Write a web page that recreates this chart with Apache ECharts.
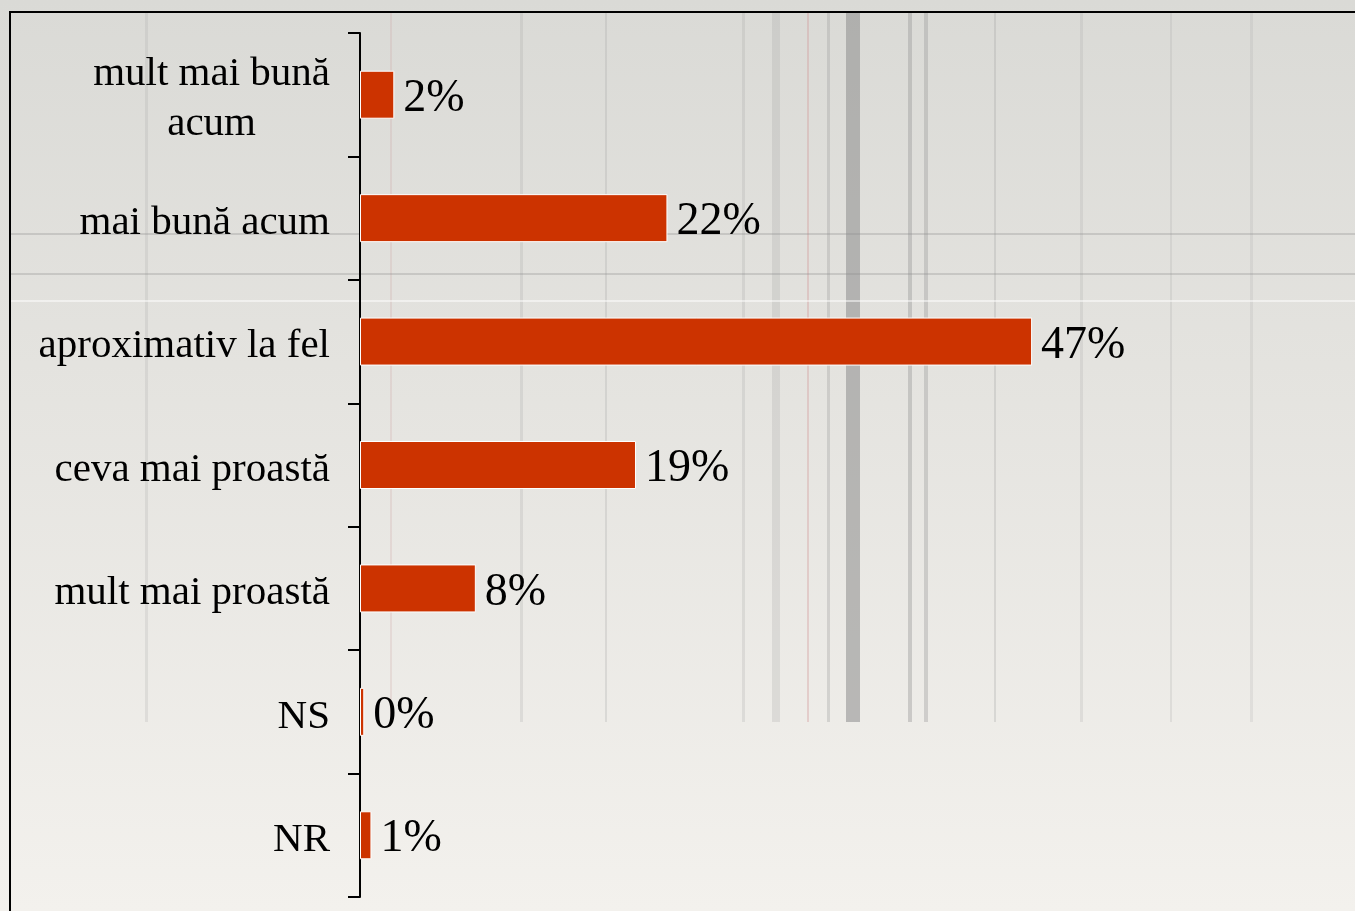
<!DOCTYPE html>
<html>
<head>
<meta charset="utf-8">
<script src="https://cdn.jsdelivr.net/npm/echarts@6/dist/echarts.min.js"></script>
<style>
    body {
        margin: 0;
    }
    .chart-box {
        width: 1355px;
        height: 911px;
    }
</style>
</head>
<body>
<div class="chart-box" id="main"></div>
<script>
    // categories from top to bottom
    var categories = ['mult mai bună\nacum', 'mai bună acum', 'aproximativ la fel', 'ceva mai proastă', 'mult mai proastă', 'NS', 'NR'];
    // percent values
    var values = [2.4, 21.5, 47, 19.3, 8.1, 0.3, 0.8];

    var myChart = echarts.init(document.getElementById('main'));

    // faint plaid texture of the original slide background
    var texture = [];
    var vLines = [
      [145, 3, 'rgba(160,160,160,0.2)'], [390, 2, 'rgba(200,150,150,0.2)'], [520, 3, 'rgba(160,160,160,0.22)'],
      [605, 2, 'rgba(160,160,160,0.25)'], [742, 3, 'rgba(160,160,160,0.22)'], [772, 8, 'rgba(150,150,150,0.2)'],
      [807, 2, 'rgba(210,150,150,0.35)'], [827, 3, 'rgba(150,150,150,0.3)'], [846, 14, 'rgba(140,140,140,0.55)'],
      [908, 4, 'rgba(150,150,150,0.4)'], [924, 4, 'rgba(150,150,150,0.35)'], [994, 2, 'rgba(150,150,150,0.25)'],
      [1080, 3, 'rgba(160,160,160,0.2)'], [1170, 2, 'rgba(160,160,160,0.2)'], [1250, 3, 'rgba(160,160,160,0.18)']
    ];
    vLines.forEach(function (l) {
      texture.push({
        type: 'rect', z: -1, silent: true,
        shape: {x: l[0], y: 12, width: l[1], height: 710},
        style: {fill: l[2]}
      });
    });
    [[233, 'rgba(140,140,140,0.3)'], [273, 'rgba(140,140,140,0.3)'], [300, 'rgba(255,255,255,0.5)']].forEach(function (h) {
      texture.push({
        type: 'rect', z: -1, silent: true,
        shape: {x: 10, y: h[0], width: 1345, height: 2},
        style: {fill: h[1]}
      });
    });
    // frame
    texture.push({
      type: 'rect', silent: true,
      shape: {x: 10, y: 12, width: 1400, height: 1000},
      style: {fill: 'none', stroke: '#000', lineWidth: 2}
    });

    var option = {
      backgroundColor: {
        type: 'linear', x: 0, y: 0, x2: 0, y2: 1,
        colorStops: [
          {offset: 0, color: '#dadad6'},
          {offset: 0.4, color: '#e4e3df'},
          {offset: 1, color: '#f3f1ed'}
        ]
      },
      graphic: texture,
      grid: {
        left: 360,
        right: 137,
        top: 33,
        bottom: 14,
        containLabel: false
      },
      xAxis: {
        type: 'value',
        min: 0,
        max: 60,
        show: false
      },
      yAxis: {
        type: 'category',
        inverse: true,
        data: categories,
        axisLine: {show: true, lineStyle: {color: '#000', width: 2}},
        axisTick: {show: true, length: 12, lineStyle: {color: '#000', width: 2}},
        axisLabel: {
          margin: 30,
          padding: [10, 0, 0, 0],
          formatter: function (v) {
            return v.split('\n').map(function (s) { return '{a|' + s + '}'; }).join('\n');
          },
          rich: {
            a: {
              fontFamily: 'Liberation Serif',
              fontSize: 41,
              lineHeight: 50,
              color: '#000',
              align: 'center'
            }
          }
        }
      },
      series: [
        {
          type: 'bar',
          data: values,
          barWidth: 48,
          itemStyle: {
            color: '#cc3300',
            borderColor: '#ffffff',
            borderWidth: 1
          },
          label: {
            show: true,
            position: 'right',
            distance: 9,
            offset: [0, 4],
            fontFamily: 'Liberation Serif',
            fontSize: 46,
            color: '#000',
            formatter: function (p) {
              return Math.round(p.value) + '%';
            }
          }
        }
      ]
    };

    myChart.setOption(option);
</script>
</body>
</html>
